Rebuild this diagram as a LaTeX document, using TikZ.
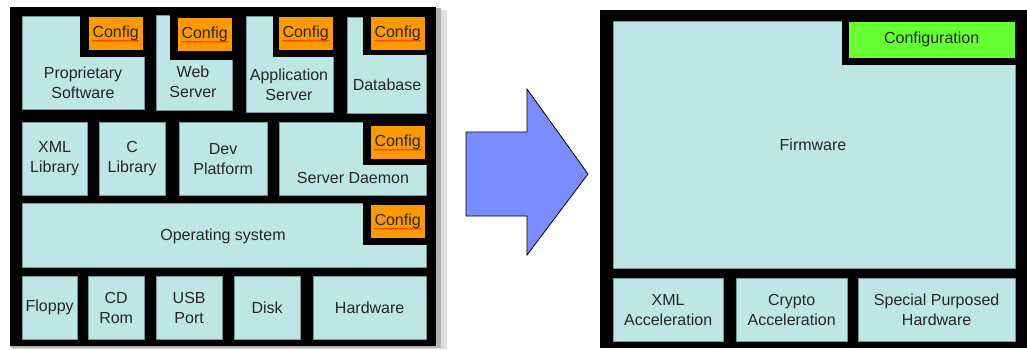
\documentclass[tikz,border=0pt]{standalone}
\usepackage{fontspec}
\setmainfont{Liberation Sans}
\usetikzlibrary{decorations.pathmorphing}

\definecolor{cyanbg}{RGB}{189,230,229}
\definecolor{cyanedge}{RGB}{120,150,150}
\definecolor{cfgorange}{RGB}{255,153,0}
\definecolor{cfggreen}{RGB}{102,255,51}
\definecolor{arrowblue}{RGB}{122,140,255}

\begin{document}
\begin{tikzpicture}[x=1pt, y=-1pt,
    font=\fontsize{16}{20}\selectfont,
    blk/.style={fill=cyanbg, draw=cyanedge, line width=.3pt, inner sep=0pt,
      anchor=north west, align=center, text=black!85},
    cfg/.style={fill=cfgorange, draw=black, line width=.3pt, inner sep=0pt,
      anchor=north west, minimum width=55pt, minimum height=34pt, text=black!85},
    lbl/.style={inner sep=0pt, align=center, text=black!85},
    squig/.style={red, line width=.4pt, decorate,
      decoration={snake, amplitude=.6pt, segment length=2.5pt}}]

    \useasboundingbox (0,0) rectangle (1027,349);

    % old stack
    \fill[black!12] (13,10) rectangle (447,349);
    \fill[black!30] (11,8) rectangle (441,348);
    \fill (10,7) rectangle (436,346);

    \node[blk, minimum width=122, minimum height=93] (prop) at (22,16) {};
    \fill (80,15) rectangle (145,57);
    \node[blk, minimum width=76, minimum height=95] (web) at (156,15) {};
    \fill (170,14) rectangle (233,60);
    \node[blk, minimum width=87, minimum height=96] (app) at (246,16) {};
    \fill (273,15) rectangle (334,57);
    \node[blk, minimum width=79, minimum height=96] (db) at (347,17) {};
    \fill (363,16) rectangle (427,55);

    \node[blk, minimum width=65, minimum height=73] (xmllib) at (22,122) {XML\\Library};
    \node[blk, minimum width=66, minimum height=73] (clib) at (99,122) {C\\Library};
    \node[blk, minimum width=88, minimum height=73] (dev) at (179,122) {Dev\\Platform};
    \node[blk, minimum width=147, minimum height=73] (daemon) at (279,122) {};
    \fill (363,121) rectangle (427,165);

    \node[blk, minimum width=404, minimum height=64] (os) at (22,203) {};
    \fill (363,202) rectangle (427,245);

    \node[blk, minimum width=55, minimum height=63] (floppy) at (22,276) {Floppy};
    \node[blk, minimum width=56, minimum height=63] (cdrom) at (88,276) {CD\\Rom};
    \node[blk, minimum width=66, minimum height=63] (usb) at (156,276) {USB\\Port};
    \node[blk, minimum width=66, minimum height=63] (disk) at (234,276) {Disk};
    \node[blk, minimum width=113, minimum height=63] (hw) at (313,276) {Hardware};

    \foreach \n/\x/\y in {pc/88/16, wc/177/17, ac/278/16, dc/370/16, sc/370/125, oc/370/204} {
      \node[cfg] (\n) at (\x,\y) {};
      \node[lbl] (\n txt) at (\n.center) {Config};
      \draw[squig] ([yshift=-3.5pt]\n txt.base west) -- ([yshift=-3.5pt]\n txt.base east);
    }

    \node[lbl] (proptxt) at (83,83) {Proprietary\\Software};
    \node[lbl] (webtxt) at (193,82) {Web\\Server};
    \node[lbl] (apptxt) at (289,85) {Application\\Server};
    \node[lbl] (dbtxt) at (387,85) {Database};
    \node[lbl] (daemontxt) at (353,178) {Server Daemon};
    \node[lbl] (ostxt) at (223,236) {Operating system};

    % arrow
    \draw[fill=arrowblue, line width=.8pt, line join=miter]
      (466,132) -- (527,132) -- (527,89) -- (588,174) -- (527,255) -- (527,216) -- (466,216) -- cycle;

    % firmware
    \fill (600,10) rectangle (1027,348);
    \node[blk, minimum width=402, minimum height=247] (fw) at (613,21) {};
    \fill (842,20) rectangle (1016,65);
    \node[cfg, fill=cfggreen, minimum width=167, minimum height=37] (conf) at (848,21) {Configuration};
    \node[lbl] (fwtxt) at (813,145) {Firmware};

    \node[blk, minimum width=110, minimum height=63] (xmlacc) at (613,278) {XML\\Acceleration};
    \node[blk, minimum width=111, minimum height=63] (crypto) at (736,278) {Crypto\\Acceleration};
    \node[blk, minimum width=157, minimum height=63] (special) at (858,278) {Special Purposed\\Hardware};
\end{tikzpicture}
\end{document}
